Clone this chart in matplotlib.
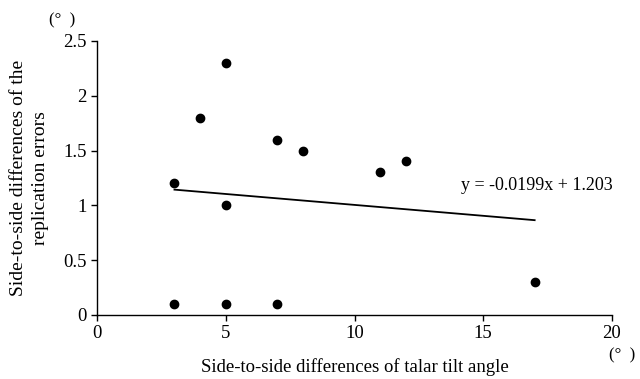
import matplotlib
matplotlib.use("Agg")
import matplotlib.pyplot as plt
import numpy as np

plt.rcParams['font.family'] = ['Liberation Serif', 'DejaVu Serif']

# talar tilt angle differences vs replication error differences
x_vals = [3, 3, 4, 5, 5, 5, 7, 7, 8, 11, 12, 17]
y_vals = [1.2, 0.1, 1.8, 2.3, 1.0, 0.1, 1.6, 0.1, 1.5, 1.3, 1.4, 0.3]
slope = -0.0199
intercept = 1.203
x_ticks = [0, 5, 10, 15, 20]
y_ticks = [0, 0.5, 1, 1.5, 2, 2.5]
y_tick_labels = ["0", "0.5", "1", "1.5", "2", "2.5"]

fig = plt.figure(figsize=(6.4, 3.79), dpi=100)
ax = fig.add_axes([0.152, 0.169, 0.804, 0.723])

ax.scatter(x_vals, y_vals, s=36, color='black', zorder=3)

fit_x = np.array([min(x_vals), max(x_vals)])
ax.plot(fit_x, slope * fit_x + intercept, color='black', linewidth=1.3)
ax.text(14.15, 1.18, "y = -0.0199x + 1.203", fontsize=13, va='center')

ax.set_xlim(0, 20)
ax.set_ylim(0, 2.5)
ax.set_xticks(x_ticks)
ax.set_yticks(y_ticks)
ax.set_yticklabels(y_tick_labels)
ax.tick_params(labelsize=13.5, length=4, width=1, direction='out')
ax.tick_params(axis='x', pad=3)
for side in ['top', 'right']:
    ax.spines[side].set_visible(False)
for side in ['left', 'bottom']:
    ax.spines[side].set_linewidth(1)

ax.set_xlabel("Side-to-side differences of talar tilt angle", fontsize=13.5, labelpad=12)
ax.set_ylabel("Side-to-side differences of the\nreplication errors", fontsize=14, labelpad=10,
              linespacing=1.45)

fig.text(0.097, 0.945, "(°  )", fontsize=12, ha='center', va='center')
fig.text(0.972, 0.062, "(°  )", fontsize=12, ha='center', va='center')

fig.savefig("out.png", dpi=100)
